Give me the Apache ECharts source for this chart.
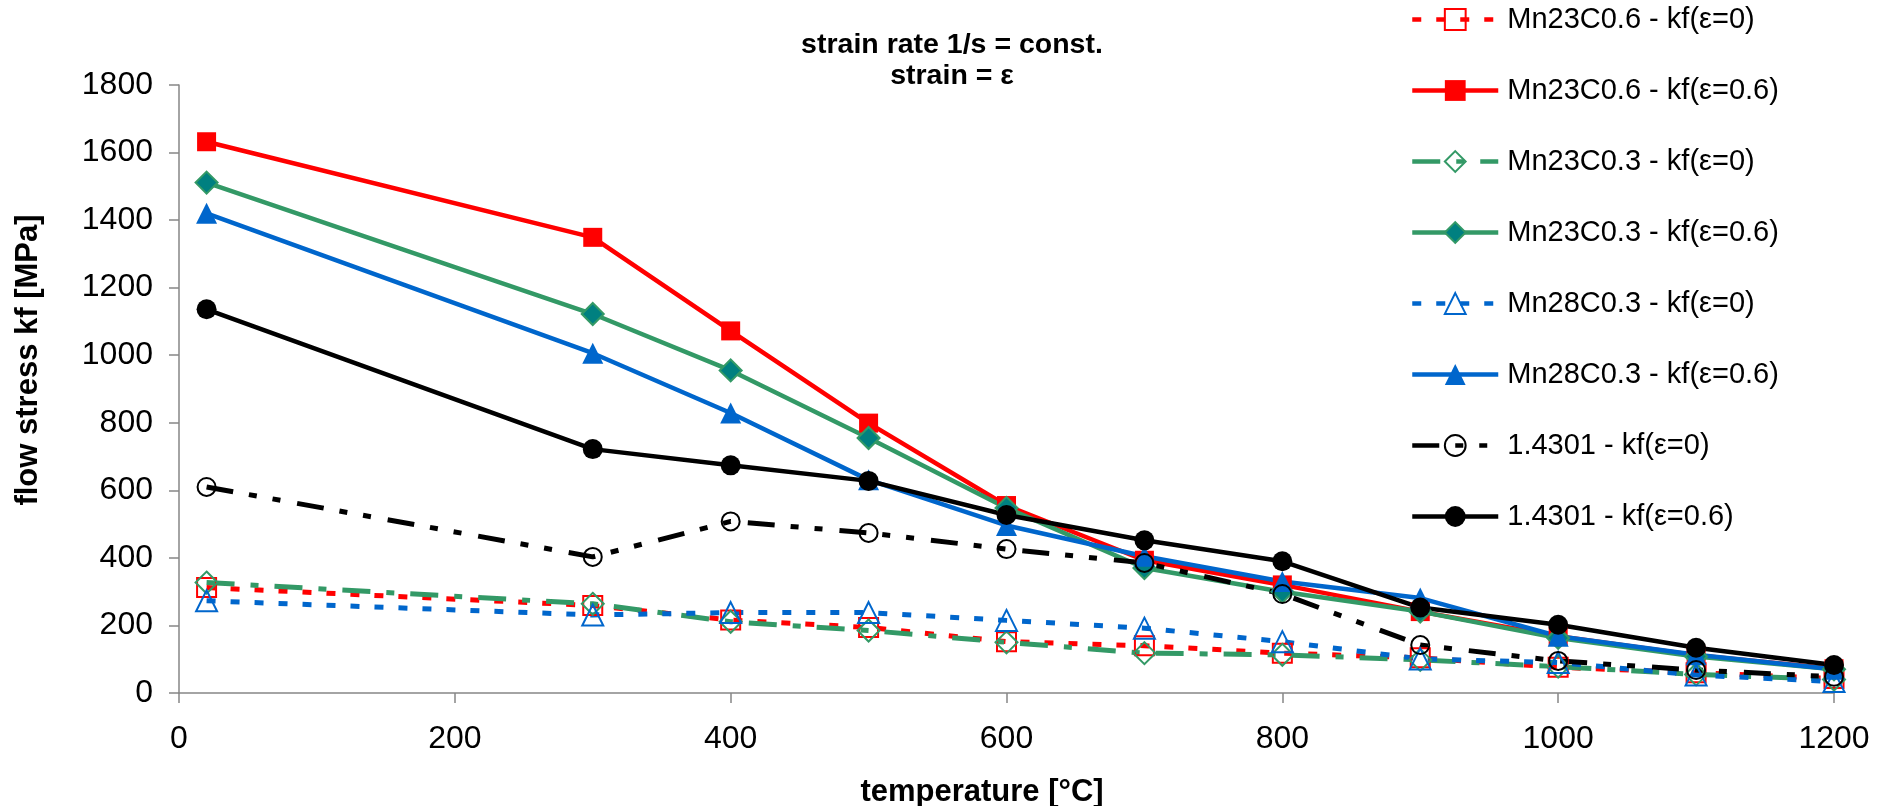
<!DOCTYPE html>
<html>
<head>
<meta charset="utf-8">
<script src="https://cdn.jsdelivr.net/npm/echarts@6/dist/echarts.min.js"></script>
<style>
html,body{margin:0;padding:0;background:#fff;}
#chart{width:1886px;height:806px;}
</style>
</head>
<body>
<div id="chart"></div>
<script>
// ---- data ----
const temps = [20, 300, 400, 500, 600, 700, 800, 900, 1000, 1100, 1200];
const mn23c06_kf0  = [312, 259, 216, 194, 152, 140, 118, 104, 76, 60, 43];
const mn23c06_kf06 = [1632, 1349, 1072, 799, 555, 393, 320, 241, 168, 112, 72];
const mn23c03_kf0  = [327, 264, 211, 185, 150, 118, 113, 98, 78, 55, 40];
const mn23c03_kf06 = [1511, 1122, 955, 755, 548, 370, 300, 241, 163, 108, 70];
const mn28c03_kf0  = [273, 231, 238, 238, 215, 192, 152, 101, 90, 53, 34];
const mn28c03_kf06 = [1420, 1006, 829, 631, 496, 405, 330, 281, 168, 113, 70];
const s14301_kf0   = [610, 403, 508, 474, 426, 385, 293, 142, 95, 68, 48];
const s14301_kf06  = [1136, 722, 674, 628, 527, 452, 390, 253, 202, 134, 83];

const seriesNames = [
  'Mn23C0.6 - kf(\u03b5=0)', 'Mn23C0.6 - kf(\u03b5=0.6)',
  'Mn23C0.3 - kf(\u03b5=0)', 'Mn23C0.3 - kf(\u03b5=0.6)',
  'Mn28C0.3 - kf(\u03b5=0)', 'Mn28C0.3 - kf(\u03b5=0.6)',
  '1.4301 - kf(\u03b5=0)', '1.4301 - kf(\u03b5=0.6)'
];
const xTicks = [0, 200, 400, 600, 800, 1000, 1200];
const yTicks = [0, 200, 400, 600, 800, 1000, 1200, 1400, 1600, 1800];
const titleLines = ['strain rate 1/s = const.', 'strain = \u03b5'];
const xTitle = 'temperature [\u00b0C]';
const yTitle = 'flow stress kf [MPa]';

const FONT = '"Liberation Sans", Arial, sans-serif';
const pairs = v => temps.map((t, i) => [t, v[i]]);

function mk(name, vals, color, dash, width, symbol, size, fill, border, bw) {
  return {
    name, type: 'line', data: pairs(vals),
    symbol, symbolSize: size,
    lineStyle: { color, width, type: dash, cap: 'butt' },
    itemStyle: { color: fill, borderColor: border, borderWidth: bw, opacity: 1 },
    emphasis: { disabled: true },
    animation: false
  };
}

const RED = '#FF0000', GREEN = '#339966', TEAL = '#008080', BLUE = '#0066CC', BLACK = '#000000';
const NONE = 'rgba(255,255,255,0)';

const series = [
  mk(seriesNames[0], mn23c06_kf0, RED, [9, 15], 5, 'rect', 19, NONE, RED, 2),
  mk(seriesNames[1], mn23c06_kf06, RED, 'solid', 4.5, 'rect', 19, RED, RED, 0),
  mk(seriesNames[2], mn23c03_kf0, GREEN, [28, 16, 8, 16], 5, 'diamond', 22, NONE, GREEN, 2),
  mk(seriesNames[3], mn23c03_kf06, GREEN, 'solid', 4.5, 'diamond', 22, TEAL, GREEN, 2),
  mk(seriesNames[4], mn28c03_kf0, BLUE, [9, 15], 5, 'triangle', 21, NONE, BLUE, 2),
  mk(seriesNames[5], mn28c03_kf06, BLUE, 'solid', 4.5, 'triangle', 21, BLUE, BLUE, 0),
  mk(seriesNames[6], s14301_kf0, BLACK, [27, 16, 8, 16, 8, 17], 5, 'circle', 18, NONE, BLACK, 2),
  mk(seriesNames[7], s14301_kf06, BLACK, 'solid', 4.5, 'circle', 20, BLACK, BLACK, 0)
];

const chart = echarts.init(document.getElementById('chart'), null, { renderer: 'canvas' });
chart.setOption({
  backgroundColor: '#ffffff',
  animation: false,
  textStyle: { fontFamily: FONT },
  grid: { left: 179, right: 52, top: 85, bottom: 113, containLabel: false },
  xAxis: {
    type: 'value', min: 0, max: 1200, interval: 200,
    axisLine: { show: true, onZero: false, lineStyle: { color: '#868686', width: 1.5 } },
    axisTick: { show: true, inside: false, length: 10, lineStyle: { color: '#868686', width: 1.5 } },
    axisLabel: {
      fontSize: 32, color: '#000', fontFamily: FONT, margin: 30,
      formatter: v => xTicks.includes(v) ? String(v) : ''
    },
    splitLine: { show: false }
  },
  yAxis: {
    type: 'value', min: 0, max: 1800, interval: 200,
    axisLine: { show: true, lineStyle: { color: '#868686', width: 1.5 } },
    axisTick: { show: true, inside: false, length: 10, lineStyle: { color: '#868686', width: 1.5 } },
    axisLabel: {
      fontSize: 32, color: '#000', fontFamily: FONT, margin: 26,
      formatter: v => yTicks.includes(v) ? String(v) : ''
    },
    splitLine: { show: false }
  },
  legend: {
    orient: 'vertical', left: 1405, top: 0,
    itemWidth: 86, itemHeight: 26, itemGap: 42,
    lineStyle: { width: 4.5 },
    textStyle: { fontSize: 29, color: '#000', fontFamily: FONT, padding: [0, 0, 0, 4] },
    data: seriesNames,
    selectedMode: false
  },
  graphic: [
    { type: 'text', x: 952, y: 45, style: { text: titleLines[0], fontSize: 28.5, fontWeight: 'bold', fontFamily: FONT, fill: '#000', align: 'center', verticalAlign: 'middle' } },
    { type: 'text', x: 952, y: 76, style: { text: titleLines[1], fontSize: 28.5, fontWeight: 'bold', fontFamily: FONT, fill: '#000', align: 'center', verticalAlign: 'middle' } },
    { type: 'text', x: 982, y: 792, style: { text: xTitle, fontSize: 31, fontWeight: 'bold', fontFamily: FONT, fill: '#000', align: 'center', verticalAlign: 'middle' } },
    { type: 'text', x: 28, y: 360, rotation: Math.PI / 2, style: { text: yTitle, fontSize: 31, fontWeight: 'bold', fontFamily: FONT, fill: '#000', align: 'center', verticalAlign: 'middle' } }
  ],
  series
});
</script>
</body>
</html>
